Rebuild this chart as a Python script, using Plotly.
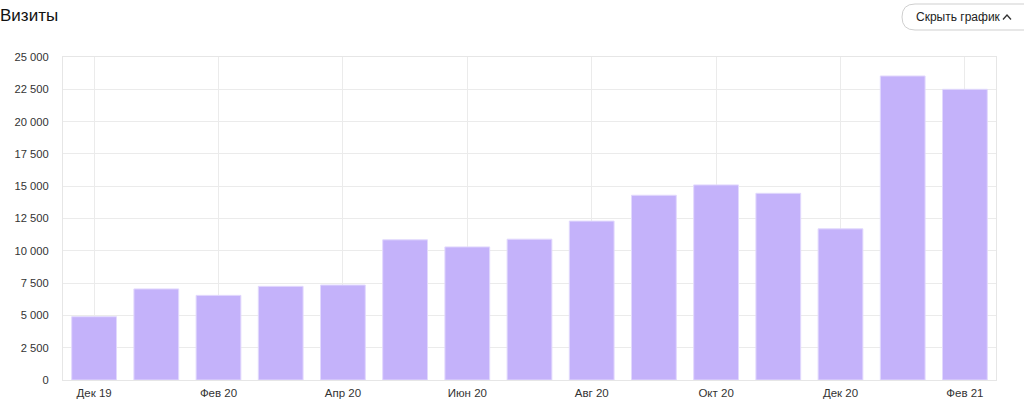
import plotly.graph_objects as go

months = ["Дек 19", "Янв 20", "Фев 20", "Мар 20", "Апр 20", "Май 20", "Июн 20", "Июл 20",
          "Авг 20", "Сен 20", "Окт 20", "Ноя 20", "Дек 20", "Янв 21", "Фев 21"]
visits = [4900, 7050, 6550, 7250, 7350, 10850, 10300, 10900,
          12300, 14300, 15100, 14450, 11700, 23530, 22500]
tick_months = months[::2]

W, H = 1024, 404
L, R, T, B = 63, 28, 57, 24


def px(x):
    # pixel -> paper x
    return (x - L) / (W - L - R)


def py(y):
    # pixel -> paper y
    return (H - B - y) / (H - T - B)


fig = go.Figure()
fig.add_trace(
    go.Bar(
        x=months,
        y=visits,
        marker=dict(color="#c4b2fa", line=dict(color="#e2d9fd", width=1)),
        hoverinfo="x+y"
    )
)

# "Скрыть график" button
x0, x1, y0, y1, r = px(902), px(1040), py(30), py(4), 13
rx = r / (W - L - R)
ry = r / (H - T - B)
fig.add_shape(
    type="path", xref="paper", yref="paper",
    path=(f"M {x1} {y1} L {x0 + rx} {y1} Q {x0} {y1} {x0} {y1 - ry} "
          f"L {x0} {y0 + ry} Q {x0} {y0} {x0 + rx} {y0} L {x1} {y0}"),
    line=dict(color="#cfcfcf", width=1)
)
fig.add_shape(
    type="path", xref="paper", yref="paper",
    path=f"M {px(1003)} {py(19.5)} L {px(1007)} {py(15)} L {px(1011)} {py(19.5)}",
    line=dict(color="#333333", width=1.3)
)
fig.add_annotation(
    text="Скрыть график", xref="paper", yref="paper",
    x=px(914), y=py(16.5), xanchor="left", yanchor="middle",
    showarrow=False, font=dict(size=12, color="#222222")
)

fig.update_layout(
    width=W, height=H,
    margin=dict(l=L, r=R, t=T, b=B),
    paper_bgcolor="white",
    plot_bgcolor="white",
    font=dict(family="Liberation Sans, Arial, sans-serif", size=11.5, color="#333333"),
    title=dict(text="Визиты", xref="container", yref="container",
               x=0, y=1 - 15 / H, xanchor="left", yanchor="middle",
               font=dict(size=17, color="#111111")),
    separators=". ",
    bargap=0.28,
    showlegend=False,
    xaxis=dict(
        type="category",
        categoryorder="array",
        categoryarray=months,
        tickvals=tick_months,
        ticktext=tick_months,
        showgrid=True,
        gridcolor="#ebebeb",
        showline=True,
        linecolor="#e6e6e6",
        mirror=True,
        ticks="",
        ticklabelstandoff=2,
        automargin=False,
        tickfont=dict(size=11.5, color="#333333"),
        fixedrange=True
    ),
    yaxis=dict(
        range=[0, 25000],
        dtick=2500,
        tickformat=",d",
        separatethousands=True,
        showgrid=True,
        gridcolor="#ebebeb",
        showline=True,
        linecolor="#e6e6e6",
        mirror=True,
        zeroline=False,
        ticks="",
        ticklabelstandoff=11,
        automargin=False,
        tickfont=dict(size=11.2, color="#333333"),
        fixedrange=True
    )
)

# page body margin off so the figure sits at the window's top-left corner
fig.write_html("out.html", config={"displayModeBar": False},
               post_script="document.body.style.margin='0';")
